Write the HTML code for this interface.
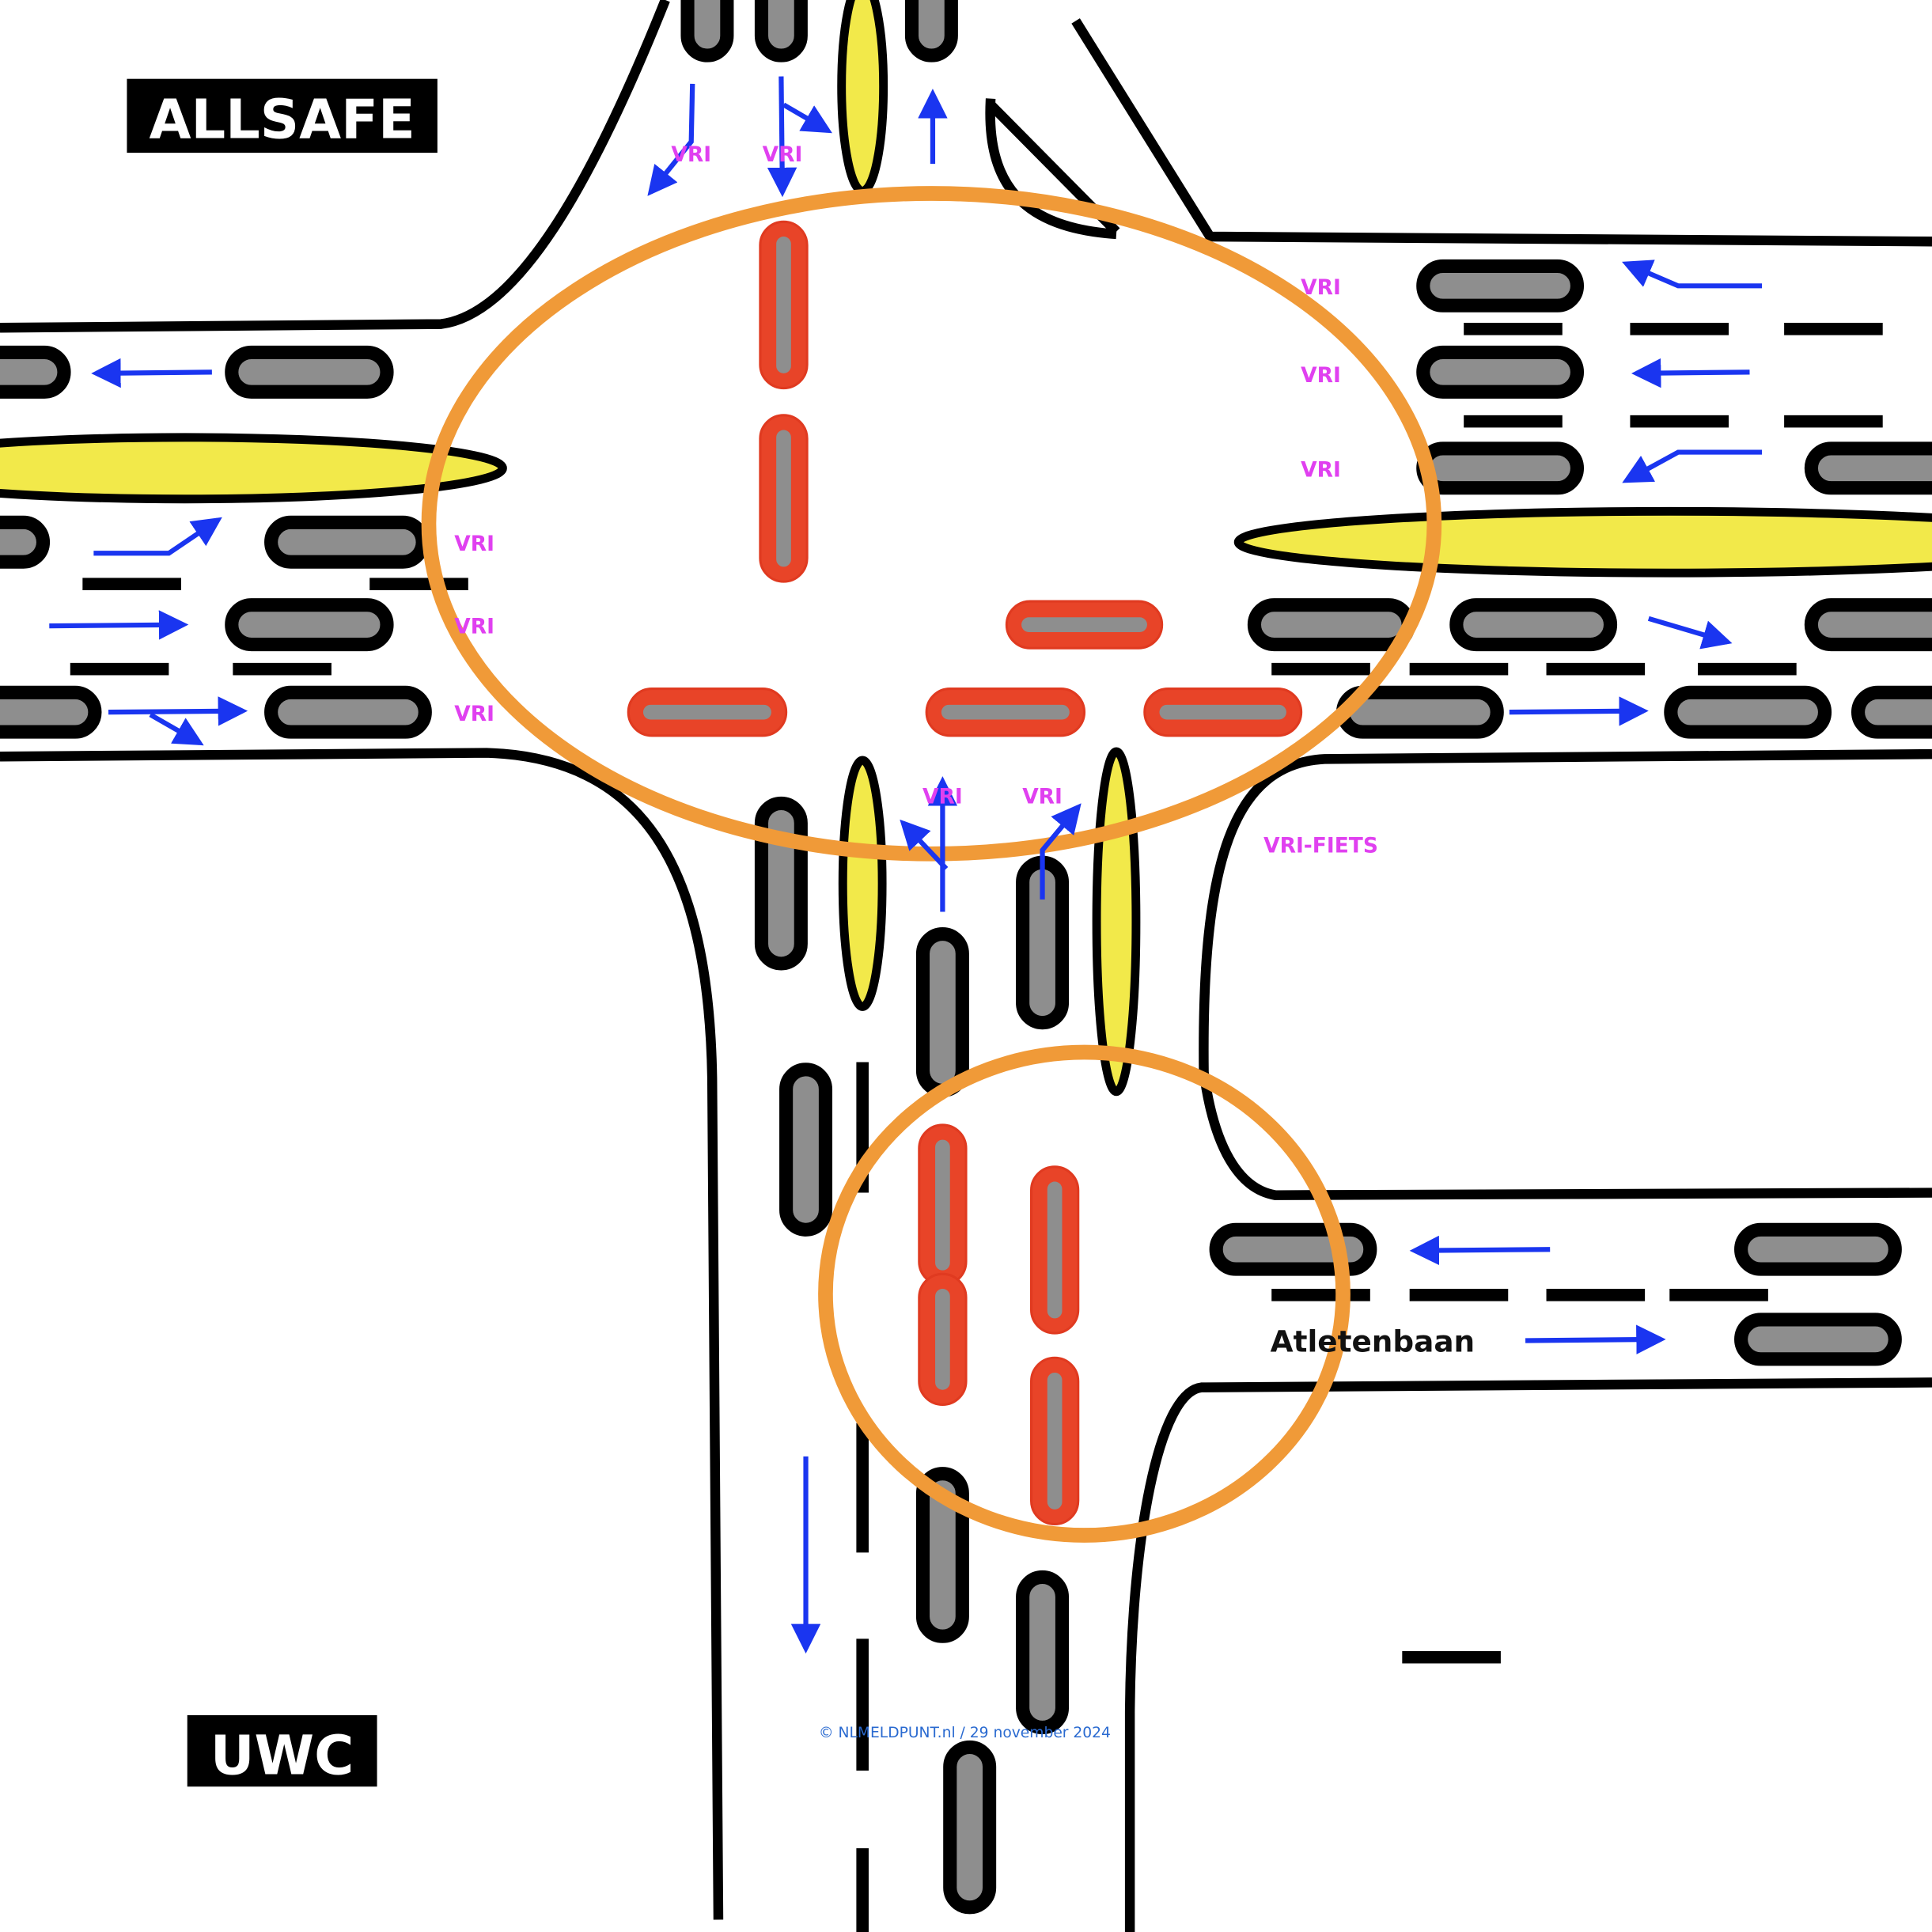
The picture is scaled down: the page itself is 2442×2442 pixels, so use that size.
<!DOCTYPE html>
<html><head><meta charset="utf-8"><style>html,body{margin:0;padding:0;background:#fff}svg{display:block}</style></head>
<body>
<svg width="2442" height="2442" viewBox="0 0 1568 1568" xmlns="http://www.w3.org/2000/svg">
<defs>
<marker id="ah" markerWidth="6" markerHeight="6" refX="5" refY="3" orient="auto" markerUnits="strokeWidth"><path d="M0,0 L6,3 L0,6 z" fill="#1a35f0"/></marker>
</defs>
<rect width="1568" height="1568" fill="#fff"/>
<g fill="none" stroke="#000" stroke-width="8">
<path d="M540 0 C480 150 420 255 358 263 L0 266"/>
<path d="M0 614 L395 611 C520 615 575 700 578 875 L583 1558"/>
<path d="M873 17 L982 192 L1568 196"/>
<path d="M804 80 C800 150 830 185 906 190"/>
<path d="M804 85 L906 188"/>
<path d="M1568 612 L1075 616 C1000 620 975 700 977 870 C985 930 1005 965 1035 970 L1568 968"/>
<path d="M1568 1122 L975 1126 C940 1130 918 1250 917 1390 L917 1568"/>
<path d="M700 862 V968 M700 1155 V1260 M700 1330 V1437 M700 1500 V1568" stroke-width="10"/>
</g>
<g fill="#000">
<rect x="67" y="469" width="80" height="10"/><rect x="300" y="469" width="80" height="10"/>
<rect x="57" y="538" width="80" height="10"/><rect x="189" y="538" width="80" height="10"/>
<rect x="1188" y="262" width="80" height="10"/><rect x="1323" y="262" width="80" height="10"/><rect x="1448" y="262" width="80" height="10"/>
<rect x="1188" y="337" width="80" height="10"/><rect x="1323" y="337" width="80" height="10"/><rect x="1448" y="337" width="80" height="10"/>
<rect x="1032" y="538" width="80" height="10"/><rect x="1144" y="538" width="80" height="10"/><rect x="1255" y="538" width="80" height="10"/><rect x="1378" y="538" width="80" height="10"/>
<rect x="1032" y="1046" width="80" height="10"/><rect x="1144" y="1046" width="80" height="10"/><rect x="1255" y="1046" width="80" height="10"/><rect x="1355" y="1046" width="80" height="10"/>
<rect x="1138" y="1340" width="80" height="10"/>
</g>
<g fill="#f2e94a" stroke="#000" stroke-width="7">
<ellipse cx="150" cy="380" rx="258" ry="25"/>
<ellipse cx="1355" cy="440" rx="350" ry="25"/>
<ellipse cx="700" cy="70" rx="17" ry="85"/>
<ellipse cx="700" cy="717" rx="16" ry="100"/>
<ellipse cx="906" cy="748" rx="16" ry="138"/>
</g>
<g fill="#8e8e8e" stroke="#000" stroke-width="11">
<rect x="-60" y="286" width="112" height="32" rx="16"/>
<rect x="188" y="286" width="126" height="32" rx="16"/>
<rect x="-60" y="424" width="95" height="32" rx="16"/>
<rect x="220" y="424" width="123" height="32" rx="16"/>
<rect x="188" y="491" width="126" height="32" rx="16"/>
<rect x="-60" y="562" width="137" height="32" rx="16"/>
<rect x="220" y="562" width="125" height="32" rx="16"/>
<rect x="1155" y="216" width="125" height="32" rx="16"/>
<rect x="1155" y="286" width="125" height="32" rx="16"/>
<rect x="1155" y="364" width="125" height="32" rx="16"/>
<rect x="1470" y="364" width="130" height="32" rx="16"/>
<rect x="1018" y="491" width="125" height="32" rx="16"/>
<rect x="1182" y="491" width="125" height="32" rx="16"/>
<rect x="1470" y="491" width="130" height="32" rx="16"/>
<rect x="1090" y="562" width="125" height="32" rx="16"/>
<rect x="1356" y="562" width="125" height="32" rx="16"/>
<rect x="1508" y="562" width="100" height="32" rx="16"/>
<rect x="987" y="998" width="125" height="32" rx="16"/>
<rect x="1413" y="998" width="125" height="32" rx="16"/>
<rect x="1413" y="1071" width="125" height="32" rx="16"/>
<rect x="558" y="-30" width="32" height="75" rx="16"/>
<rect x="618" y="-30" width="32" height="75" rx="16"/>
<rect x="740" y="-30" width="32" height="75" rx="16"/>
<rect x="618" y="652" width="32" height="130" rx="16"/>
<rect x="749" y="758" width="32" height="127" rx="16"/>
<rect x="830" y="700" width="32" height="130" rx="16"/>
<rect x="638" y="868" width="32" height="130" rx="16"/>
<rect x="749" y="1196" width="32" height="132" rx="16"/>
<rect x="830" y="1280" width="32" height="122" rx="16"/>
<rect x="771" y="1418" width="32" height="130" rx="16"/>
</g>
<g fill="#e84428" stroke="#e03a20" stroke-width="2">
<rect x="617" y="180" width="38" height="135" rx="19"/>
<rect x="617" y="337" width="38" height="135" rx="19"/>
<rect x="746" y="913" width="38" height="130" rx="19"/>
<rect x="746" y="1034" width="38" height="106" rx="19"/>
<rect x="837" y="947" width="38" height="135" rx="19"/>
<rect x="837" y="1102" width="38" height="135" rx="19"/>
<rect x="510" y="559" width="128" height="38" rx="19"/>
<rect x="817" y="488" width="126" height="38" rx="19"/>
<rect x="752" y="559" width="128" height="38" rx="19"/>
<rect x="929" y="559" width="127" height="38" rx="19"/>
</g>
<g stroke="#8e8e8e" stroke-width="12" stroke-linecap="round">
<path d="M636 198 V297 M636 355 V454 M765 931 V1025 M765 1052 V1122 M856 965 V1064 M856 1120 V1219 M528 578 H620 M835 507 H925 M770 578 H862 M947 578 H1038"/>
</g>
<g fill="none" stroke="#f09a38" stroke-width="12">
<ellipse cx="756" cy="425" rx="408" ry="268"/>
<ellipse cx="880" cy="1050" rx="210" ry="196"/>
</g>
<g fill="none" stroke="#1a35f0" stroke-width="4" marker-end="url(#ah)">
<path d="M562 68 L561 115 L528 156"/>
<path d="M634 62 L635 156"/>
<path d="M636 85 L672 106"/>
<path d="M757 133 L757 76"/>
<path d="M1430 232 L1362 232 L1320 214"/>
<path d="M1420 302 L1328 303"/>
<path d="M1430 367 L1362 367 L1320 390"/>
<path d="M172 302 L78 303"/>
<path d="M76 449 L137 449 L177 422"/>
<path d="M40 508 L149 507"/>
<path d="M88 578 L197 577"/>
<path d="M122 580 L162 603"/>
<path d="M1338 502 L1402 521"/>
<path d="M1225 578 L1334 577"/>
<path d="M1258 1014 L1148 1015"/>
<path d="M1238 1088 L1348 1087"/>
<path d="M765 740 L765 634"/>
<path d="M768 705 L733 668"/>
<path d="M846 730 L846 690 L875 655"/>
<path d="M654 1182 L654 1338"/>
</g>
<g font-family="'DejaVu Sans','Liberation Sans',sans-serif" font-weight="bold" font-size="17" fill="#e040f0" text-anchor="middle">
<text x="561" y="131">VRI</text><text x="635" y="131">VRI</text>
<text x="1072" y="239">VRI</text><text x="1072" y="310">VRI</text><text x="1072" y="387">VRI</text>
<text x="385" y="447">VRI</text><text x="385" y="514">VRI</text><text x="385" y="585">VRI</text>
<text x="765" y="652">VRI</text><text x="846" y="652">VRI</text>
<text x="1072" y="692">VRI-FIETS</text>
</g>
<text x="1031" y="1097" font-family="'DejaVu Sans','Liberation Sans',sans-serif" font-weight="bold" font-size="24" fill="#111">Atletenbaan</text>
<text x="783" y="1410" font-family="'DejaVu Sans','Liberation Sans',sans-serif" font-size="12" fill="#2a6ad0" text-anchor="middle">© NLMELDPUNT.nl / 29 november 2024</text>
<rect x="103" y="64" width="252" height="60" fill="#000"/>
<text x="229" y="112" font-family="'DejaVu Sans','Liberation Sans',sans-serif" font-weight="bold" font-size="44" fill="#fff" text-anchor="middle">ALLSAFE</text>
<rect x="152" y="1392" width="154" height="58" fill="#000"/>
<text x="229" y="1440" font-family="'DejaVu Sans','Liberation Sans',sans-serif" font-weight="bold" font-size="44" fill="#fff" text-anchor="middle">UWC</text>
</svg>
</body></html>
